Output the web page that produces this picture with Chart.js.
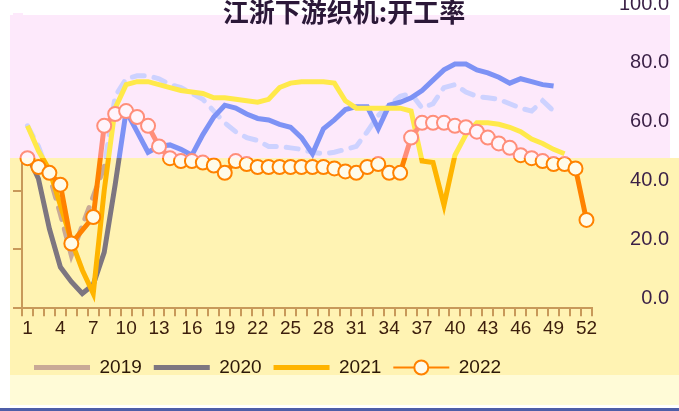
<!DOCTYPE html>
<html>
<head>
<meta charset="utf-8">
<script src="https://cdn.jsdelivr.net/npm/chart.js@4.4.1/dist/chart.umd.min.js"></script>
<style>
body { margin: 0; background: #fff; }
#wrap { position: relative; width: 679px; height: 411px; }
#title { position: absolute; left: 0; top: -2px; width: 688px; text-align: center; font: bold 26px "Noto Sans CJK SC"; line-height: 1; color: #2b1838; }
</style>
</head>
<body>
<div id="wrap">
<canvas id="lineChart" width="679" height="411"></canvas>
<div id="title">江浙下游织机:开工率</div>
</div>
<script>
var weeks = ['1', '2', '3', '4', '5', '6', '7', '8', '9', '10', '11', '12', '13', '14', '15', '16', '17', '18',
    '19', '20', '21', '22', '23', '24', '25', '26', '27', '28', '29', '30', '31', '32', '33', '34', '35', '36',
    '37', '38', '39', '40', '41', '42', '43', '44', '45', '46', '47', '48', '49', '50', '51', '52'];

var y2019 = [62, 55, 45, 32, 18, 28, 38, 48, 72, 78, 79, 79, 78, 76, 75, 73, 71, 67, 63, 60, 58, 57, 55, 55, 54.5, 54,
    53, 52.5, 53, 54, 55, 60, 65.5, 69, 72, 73, 68, 69.5, 75, 76, 73.5, 72, 71.5, 71, 69.5, 68, 67, 70.5, 67, null, null, null];
var y2020 = [52, 44, 27, 14, 9, 5, 8, 19, 42, 67, 60, 53, 55, 55.5, 54, 52, 59, 65, 69, 68, 66, 64.5, 64, 62.5, 61.5, 58,
    52.5, 61, 64, 67.5, 68.5, 68.5, 61, 69, 70, 71.5, 74, 77.5, 81, 83, 83, 81, 80, 78.5, 76.5, 78, 77, 76, 75.5, null, null, null];
var y2021 = [62, 53.5, 47, 35, 23, 13, 5, 40, 68, 76, 77, 77, 76, 75, 74, 73.5, 73, 71.5, 71.5, 71, 70.5, 70, 71, 75, 76.5, 77,
    77, 77, 76.5, 70.5, 68, 68, 68, 68, 68, 67, 50, 49.5, 35, 52, 59, 63, 63, 62.5, 61.5, 60, 57.5, 56, 54, 52.5, null, null];
var y2022 = [51, 48, 46, 42, 22, null, 31, 62, 66, 67, 65, 62, 55, 51, 50, 50, 49.5, 48.5, 46, 50, 49, 48, 48, 48, 48, 48,
    48, 48, 47.5, 46.5, 46, 48, 49, 46, 46, 58, 63, 63, 63, 62, 61.5, 60, 58, 56, 54.5, 52, 51, 50, 49, 49, 47.5, 30];

var yTicks = [0, 20, 40, 60, 80, 100];

var canvas = document.getElementById('lineChart');
var ctx = canvas.getContext('2d');

// the picture is split: pink band on top, yellow below
var SPLIT = 158 / 411;
function split(top, bottom) {
    var g = ctx.createLinearGradient(0, 0, 0, 411);
    g.addColorStop(0, top);
    g.addColorStop(SPLIT, top);
    g.addColorStop(SPLIT, bottom);
    g.addColorStop(1, bottom);
    return g;
}

var bands = {
    id: 'bands',
    beforeDraw: function (chart) {
        var c = chart.ctx;
        c.save();
        c.fillStyle = '#ffffff';
        c.fillRect(0, 0, 679, 411);
        c.fillStyle = '#fde9fb';
        c.fillRect(10, 15, 660, 143);
        c.fillStyle = '#fff3b3';
        c.fillRect(10, 158, 669, 217);
        c.fillStyle = '#fffbd7';
        c.fillRect(10, 375, 669, 30);
        c.fillStyle = '#4e5ea8';
        c.fillRect(0, 408, 679, 3);
        c.restore();
    }
};

// circle on the 2022 legend line
var legendMarker = {
    id: 'legendMarker',
    afterDraw: function (chart) {
        var boxes = chart.legend.legendHitBoxes;
        var items = chart.legend.legendItems;
        for (var i = 0; i < items.length; i++) {
            if (items[i].datasetIndex !== 3) continue;
            var b = boxes[i];
            var c = chart.ctx;
            c.save();
            c.beginPath();
            c.arc(b.left + 28, b.top + b.height / 2, 7, 0, Math.PI * 2);
            c.fillStyle = '#fffbea';
            c.fill();
            c.lineWidth = 2;
            c.strokeStyle = '#ff8200';
            c.stroke();
            c.restore();
        }
    }
};

var axisColor = split('#fde9fb', '#c8995a');
var labelColor = split('#3a2046', '#3c1e0c');

var myChart = new Chart(ctx, {
    type: 'line',
    data: {
        labels: weeks,
        datasets: [{
                label: '2019',
                data: y2019,
                borderColor: split('#cdd2ff', '#c9a996'),
                backgroundColor: split('#cdd2ff', '#c9a996'),
                borderWidth: 5,
                borderDash: [12, 10],
                borderCapStyle: 'round',
                pointRadius: 0,
                order: 3
            },
            {
                label: '2020',
                data: y2020,
                borderColor: split('#7d92f5', '#7d7680'),
                backgroundColor: split('#7d92f5', '#7d7680'),
                borderWidth: 5,
                pointRadius: 0,
                order: 2
            },
            {
                label: '2021',
                data: y2021,
                borderColor: split('#ffe94a', '#ffb400'),
                backgroundColor: split('#ffe94a', '#ffb400'),
                borderWidth: 5,
                pointRadius: 0,
                order: 1
            },
            {
                label: '2022',
                data: y2022,
                borderColor: split('#ff8e7a', '#ff8200'),
                backgroundColor: split('#fff4fb', '#fffbea'),
                borderWidth: 5,
                spanGaps: true,
                pointRadius: 7,
                pointBorderWidth: 2,
                pointBackgroundColor: split('#fff4fb', '#fffbea'),
                pointBorderColor: split('#ff8e7a', '#ff8200'),
                order: 0
            }
        ]
    },
    options: {
        responsive: false,
        animation: false,
        devicePixelRatio: 1,
        layout: {
            padding: { left: 13, right: 10, top: 14, bottom: 24 }
        },
        elements: {
            line: { tension: 0 }
        },
        scales: {
            x: {
                offset: true,
                grid: { offset: true, drawOnChartArea: false, tickLength: 8, color: '#c8995a', lineWidth: 2 },
                border: { color: '#c8995a', width: 2 },
                ticks: {
                    autoSkip: false,
                    maxRotation: 0,
                    padding: 1,
                    color: '#3c1e0c',
                    font: { family: 'Liberation Sans', size: 19 },
                    callback: function (v, i) { return i % 3 === 0 ? weeks[i] : ''; }
                },
                afterFit: function (scale) { scale.height += 5; }
            },
            yl: {
                position: 'left',
                min: 0,
                max: 100,
                afterBuildTicks: function (scale) { scale.ticks = yTicks.map(function (v) { return { value: v }; }); },
                grid: { drawOnChartArea: false, tickLength: 9, color: axisColor, lineWidth: 2 },
                border: { color: axisColor, width: 2 },
                ticks: { display: false }
            },
            y: {
                position: 'right',
                min: 0,
                max: 100,
                afterBuildTicks: function (scale) { scale.ticks = yTicks.map(function (v) { return { value: v }; }); },
                grid: { drawOnChartArea: false, drawTicks: true, tickLength: 25, color: 'rgba(0,0,0,0)' },
                border: { display: false },
                ticks: {
                    padding: 1,
                    crossAlign: 'far',
                    labelOffset: -10,
                    color: labelColor,
                    font: { family: 'Liberation Sans', size: 20 },
                    callback: function (v) { return Number(v).toFixed(1); }
                }
            }
        },
        plugins: {
            title: { display: false },
            tooltip: { enabled: false },
            legend: {
                position: 'bottom',
                align: 'start',
                fullSize: false,
                labels: {
                    usePointStyle: true,
                    pointStyle: 'line',
                    pointStyleWidth: 56,
                    padding: 12,
                    color: '#2c1808',
                    font: { family: 'Liberation Sans', size: 19 },
                    sort: function (a, b) { return a.datasetIndex - b.datasetIndex; }
                }
            }
        }
    },
    plugins: [bands, legendMarker]
});
</script>
</body>
</html>
